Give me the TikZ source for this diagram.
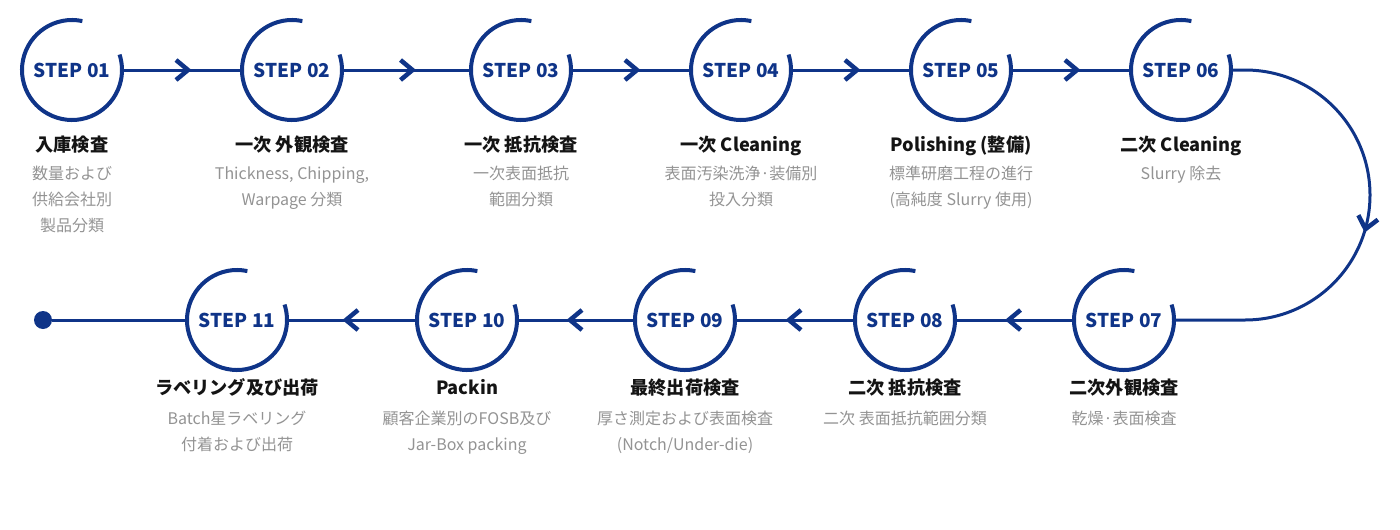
\documentclass[tikz,border=0pt]{standalone}
\usepackage{fontspec}
\setmainfont{Noto Sans CJK JP}
\usetikzlibrary{positioning,decorations.markings}

\definecolor{stepblue}{HTML}{0F3488}
\definecolor{descgray}{HTML}{939393}

\tikzset{
  stepnode/.style={circle, minimum size=100pt, inner sep=0pt, outer sep=0pt,
    text=stepblue, font=\fontsize{19}{19}\selectfont\bfseries},
  ring/.style={draw=stepblue, line width=4pt},
  chevron/.style={postaction={decorate}, decoration={markings,
    mark=at position 0.5 with {\draw[draw=stepblue, line width=4.5pt, miter limit=10] (-6,-10) -- (6,0) -- (-6,10);}}},
  plainlink/.style={draw=stepblue, line width=3pt},
  link/.style={plainlink, chevron},
  steptitle/.style={font=\fontsize{18.2}{18.2}\selectfont\bfseries, text=black!92,
    text height=15pt, text depth=2pt, inner sep=0pt},
  stepdesc/.style={font=\fontsize{16}{26}\selectfont, text=descgray, align=center,
    anchor=north, inner sep=0pt},
  enddot/.style={circle, fill=stepblue, minimum size=18pt, inner sep=0pt}
}

\begin{document}
\begin{tikzpicture}[x=1pt, y=-1pt]
    \useasboundingbox (0,0) rectangle (1400,530);

    % draw step circles
    \foreach \n/\x/\y in {01/72/70, 02/292/70, 03/521/70, 04/741/70, 05/961/70, 06/1181/70,
                          07/1124/320, 08/905/320, 09/685/320, 10/467/320, 11/237/320}
    {
    \node[stepnode] (s\n) at (\x,\y) {STEP \n};
    \draw[ring] (s\n.78) arc[start angle=78, end angle=378, radius=50pt];
    }

    % draw titles and descriptions
    \foreach \n/\ty/\dy/\title/\desc in {
        01/74.5/91.5/{入庫検査}/{数量および\\供給会社別\\製品分類},
        02/74.5/91.5/{一次 外観検査}/{Thickness, Chipping,\\Warpage 分類},
        03/74.5/91.5/{一次 抵抗検査}/{一次表面抵抗\\範囲分類},
        04/74.5/91.5/{一次 Cleaning}/{表面汚染洗浄·装備別\\投入分類},
        05/74.5/91.5/{Polishing (整備)}/{標準研磨工程の進行\\(高純度 Slurry 使用)},
        06/74.5/91.5/{二次 Cleaning}/{Slurry 除去},
        07/67.5/86.5/{二次外観検査}/{乾燥·表面検査},
        08/67.5/86.5/{二次 抵抗検査}/{二次 表面抵抗範囲分類},
        09/67.5/86.5/{最終出荷検査}/{厚さ測定および表面検査\\(Notch/Under-die)},
        10/67.5/86.5/{Packin}/{顧客企業別のFOSB及び\\Jar-Box packing},
        11/67.5/86.5/{ラベリング及び出荷}/{Batch星ラベリング\\付着および出荷}}
    {
    \path (s\n) ++(0,\ty) node[steptitle] (t\n) {\title};
    \path (s\n) ++(0,\dy) node[stepdesc] (d\n) {\strut\desc};
    }

    % draw connectors
    \foreach \a/\b in {01/02, 02/03, 03/04, 04/05, 05/06}
    \draw[link] (s\a.east) -- (s\b.west);
    \foreach \a/\b in {07/08, 08/09, 09/10, 10/11}
    \draw[link] (s\a.west) -- (s\b.east);
    \draw[link] (s06.east) -- ++(14,0) arc[start angle=90, end angle=-90, radius=125pt] -- (s07.east);

    % draw end point
    \node[enddot] (fin) at (43,320) {};
    \draw[plainlink] (s11.west) -- (fin);
\end{tikzpicture}
\end{document}
